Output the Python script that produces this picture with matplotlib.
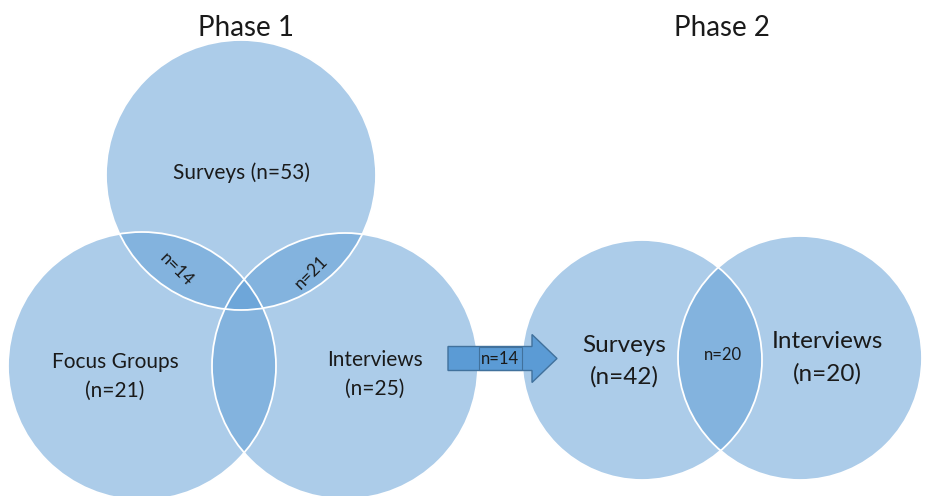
import matplotlib.pyplot as plt
from matplotlib.patches import Circle, FancyArrow, Rectangle

# data
phase_titles = ['Phase 1', 'Phase 2']
phase1_sets = ['Surveys', 'Focus Groups', 'Interviews']
phase1_counts = [53, 21, 25]
phase1_overlaps = [14, 21]          # surveys/focus, surveys/interviews
carried_over = 14
phase2_sets = ['Surveys', 'Interviews']
phase2_counts = [42, 20]
phase2_overlap = 20

# layout (pixel coords, y down)
fill = '#5b9bd5'
p1_circles = [(241, 175, 135), (142, 366, 134), (345, 366, 133)]
p2_circles = [(642, 360, 120), (800, 358, 122)]

plt.rcParams['font.family'] = ['Lato', 'DejaVu Sans']
fig = plt.figure(figsize=(9.28, 4.96), dpi=100)
ax = fig.add_axes([0, 0, 1, 1])
ax.set_xlim(0, 928)
ax.set_ylim(496, 0)
ax.set_aspect('equal')
ax.axis('off')

for x, y, r in p1_circles + p2_circles:
    ax.add_patch(Circle((x, y), r, facecolor=fill, alpha=0.5, edgecolor='none'))
for x, y, r in p1_circles + p2_circles:
    ax.add_patch(Circle((x, y), r, facecolor='none', edgecolor='white', lw=1.3))

txt = dict(ha='center', va='center', color='#1a1a1a')
ax.text(246, 28, phase_titles[0], fontsize=20, **txt)
ax.text(722, 28, phase_titles[1], fontsize=20, **txt)

ax.text(242, 173, f'{phase1_sets[0]} (n={phase1_counts[0]})', fontsize=15, **txt)
ax.text(115, 362, phase1_sets[1], fontsize=15, **txt)
ax.text(115, 391, f'(n={phase1_counts[1]})', fontsize=15, **txt)
ax.text(375, 360, phase1_sets[2], fontsize=15, **txt)
ax.text(375, 389, f'(n={phase1_counts[2]})', fontsize=15, **txt)
ax.text(176, 270, f'n={phase1_overlaps[0]}', fontsize=12.5, rotation=-45, **txt)
ax.text(311, 272, f'n={phase1_overlaps[1]}', fontsize=12.5, rotation=45, **txt)

# arrow between phases
ax.add_patch(FancyArrow(448, 358.5, 109, 0, width=24, head_width=48,
                        head_length=25, length_includes_head=True,
                        facecolor=fill, edgecolor='#41719c', lw=1))
ax.add_patch(Rectangle((479, 347), 43, 23, facecolor='none',
                       edgecolor='#41719c', lw=0.8))
ax.text(500, 358.5, f'n={carried_over}', fontsize=12, **txt)

ax.text(624, 345, phase2_sets[0], fontsize=17.5, **txt)
ax.text(624, 377, f'(n={phase2_counts[0]})', fontsize=17.5, **txt)
ax.text(723, 355, f'n={phase2_overlap}', fontsize=12, **txt)
ax.text(827, 342, phase2_sets[1], fontsize=17.5, **txt)
ax.text(827, 374, f'(n={phase2_counts[1]})', fontsize=17.5, **txt)

fig.savefig('out.png', dpi=100)
